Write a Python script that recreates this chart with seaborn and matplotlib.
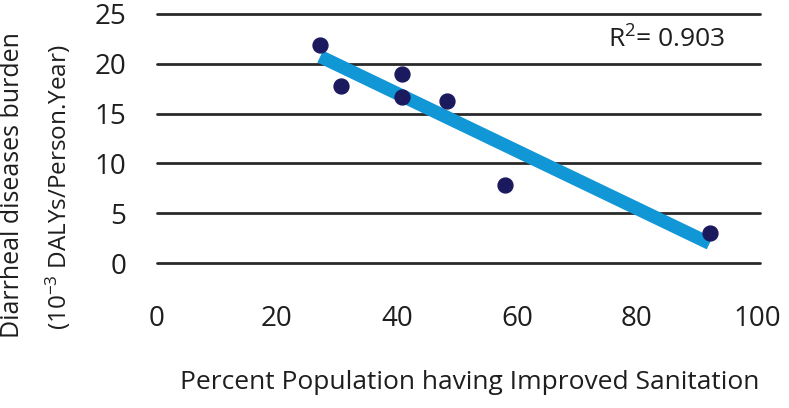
import numpy as np
import pandas as pd
import matplotlib.pyplot as plt
import seaborn as sns

# values
sanitation = [27.2, 30.6, 40.8, 40.8, 48.3, 58.0, 92.1]
burden = [21.9, 17.8, 19.0, 16.7, 16.3, 7.8, 3.0]
x_ticks = [0, 20, 40, 60, 80, 100]
y_ticks = [0, 5, 10, 15, 20, 25]
r2_text = "R$^{2}$= 0.903"

df = pd.DataFrame({'sanitation': sanitation, 'burden': burden})

sns.set_style("white")
plt.rcParams['font.family'] = ['Open Sans', 'DejaVu Sans']
plt.rcParams['mathtext.fontset'] = 'custom'
plt.rcParams['mathtext.rm'] = 'Open Sans'
plt.rcParams['mathtext.it'] = 'Open Sans'

txt = '#1e1e1e'

fig = plt.figure(figsize=(7.89, 4.08), dpi=100)
ax = fig.add_axes([157 / 789, 1 - 263 / 408, 600 / 789, 249 / 408])

sns.regplot(data=df, x='sanitation', y='burden', ci=None, ax=ax,
            scatter_kws={'s': 115, 'color': '#1c1a5e', 'zorder': 4, 'alpha': 1},
            line_kws={'color': '#1196d6', 'lw': 9.5, 'solid_capstyle': 'butt', 'zorder': 3})

for yv in y_ticks:
    ax.axhline(yv, xmin=0, xmax=1.005, color='#2a2a2a', lw=2, zorder=1, clip_on=False)

ax.set_xlim(0, 100)
ax.set_ylim(0, 25)
ax.set_xticks(x_ticks)
ax.set_yticks(y_ticks)
ax.tick_params(axis='x', length=0, pad=30, labelsize=20, labelcolor=txt)
ax.tick_params(axis='y', length=0, pad=22, labelsize=20, labelcolor=txt)
sns.despine(ax=ax, left=True, bottom=True)

ax.set_xlabel('Percent Population having Improved Sanitation', fontsize=19,
              color=txt)
ax.xaxis.set_label_coords((470 - 157) / 600, -0.43)
ax.set_ylabel('')
fig.text(13 / 789, 1 - 185 / 408, 'Diarrheal diseases burden', rotation=90,
         ha='center', va='center', fontsize=18, color=txt)
fig.text(58 / 789, 1 - 187 / 408, '(10$^{-3}$ DALYs/Person.Year)', rotation=90,
         ha='center', va='center', fontsize=17.5, color=txt)

ax.text(94.8, 22.4, r2_text, ha='right', va='center', fontsize=19, color=txt)

fig.savefig('out.png', dpi=100)
